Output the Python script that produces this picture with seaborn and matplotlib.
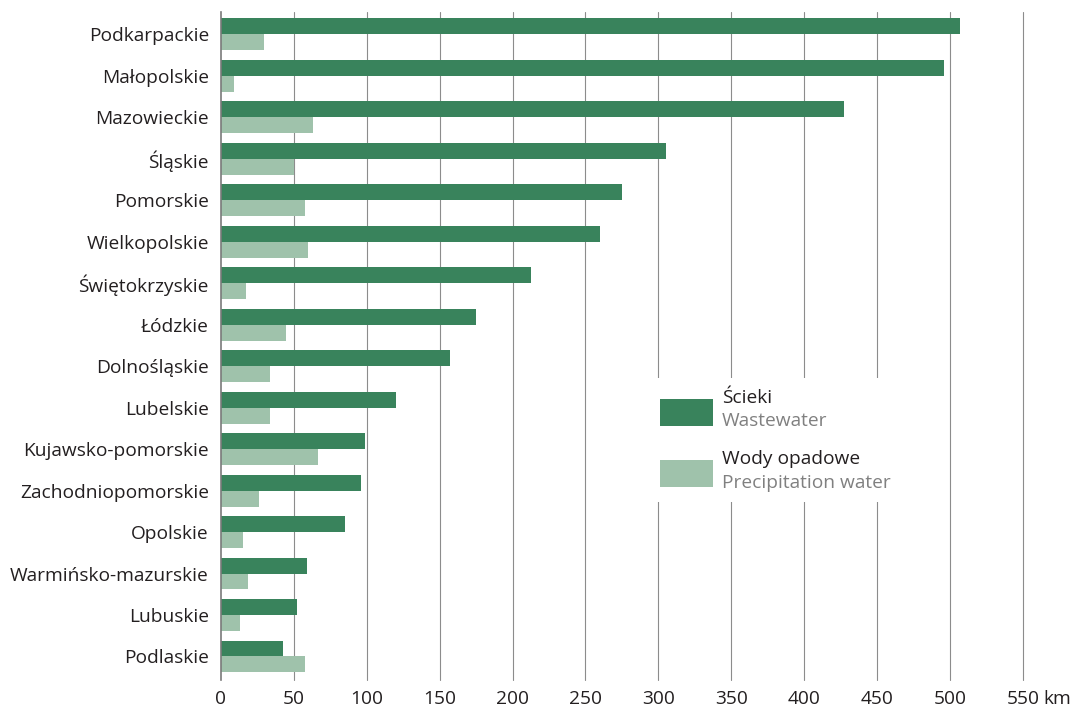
import matplotlib
matplotlib.use("Agg")
import matplotlib.pyplot as plt
from matplotlib.patches import Rectangle
import seaborn as sns
import pandas as pd

regions = ["Podkarpackie", "Małopolskie", "Mazowieckie", "Śląskie", "Pomorskie",
           "Wielkopolskie", "Świętokrzyskie", "Łódzkie", "Dolnośląskie", "Lubelskie",
           "Kujawsko-pomorskie", "Zachodniopomorskie", "Opolskie",
           "Warmińsko-mazurskie", "Lubuskie", "Podlaskie"]
wastewater = [507, 496, 427, 305, 275, 260, 213, 175, 157, 120, 99, 96, 85, 59, 52, 43]
precipitation = [30, 9, 63, 50, 58, 60, 17, 45, 34, 34, 67, 26, 15, 19, 13, 58]
series_pl = ["Ścieki", "Wody opadowe"]
series_en = ["Wastewater", "Precipitation water"]
x_ticks = [0, 50, 100, 150, 200, 250, 300, 350, 400, 450, 500, 550]
unit = "km"

colors = ["#39835c", "#9fc2ab"]
text_dark = "#231f20"
text_gray = "#808080"
FS = 13.8

sns.set_theme(style="white")
plt.rcParams["font.family"] = ["Open Sans", "DejaVu Sans"]

df = pd.DataFrame({
    "region": regions * 2,
    "value": wastewater + precipitation,
    "series": [series_pl[0]] * len(regions) + [series_pl[1]] * len(regions),
})

fig = plt.figure(figsize=(10.75, 7.11), dpi=100)
ax = fig.add_axes([220.7 / 1075, 1 - 679.7 / 711, 802.5 / 1075, 667.7 / 711])

sns.barplot(data=df, y="region", x="value", hue="series", orient="h",
            palette=colors, saturation=1, width=0.77, dodge=True,
            order=regions, hue_order=series_pl, legend=False, ax=ax, zorder=3,
            linewidth=0, edgecolor="none")

ax.set_xlim(0, 550)
ax.set_ylim(len(regions) - 1 + 0.56, -0.54)
ax.set_xlabel("")
ax.set_ylabel("")

for v in x_ticks[1:]:
    ax.axvline(v, color="#8c8c8c", lw=0.8, zorder=1, clip_on=False)

for s in ["top", "right", "bottom"]:
    ax.spines[s].set_visible(False)
ax.spines["left"].set_color("#7a7a7a")
ax.spines["left"].set_linewidth(1.2)
ax.spines["left"].set_zorder(4)

ax.set_xticks(x_ticks)
ax.set_xticklabels([str(t) for t in x_ticks])
ax.tick_params(axis="x", length=0, pad=7.5, labelsize=FS, labelcolor=text_dark)
ax.tick_params(axis="y", length=0, pad=8.5, labelsize=FS, labelcolor=text_dark)

ax.annotate(unit, xy=(550, 0), xycoords=("data", "axes fraction"),
            xytext=(20, -10), textcoords="offset pixels", ha="left", va="top",
            fontsize=FS, color=text_dark)

# legend box (white background over grid lines)
W, H = 1075, 711
def fx(x):
    return x / W
def fy(y):
    return 1 - y / H

fig.add_artist(Rectangle((fx(645), fy(502)), fx(905) - fx(645), fy(378) - fy(502),
                         facecolor="white", edgecolor="none", zorder=5))
patch_tops = [399, 460]
for i in range(2):
    fig.add_artist(Rectangle((fx(660), fy(patch_tops[i] + 26.7)), fx(713) - fx(660),
                             26.7 / H, facecolor=colors[i], edgecolor="none", zorder=6))
    fig.text(fx(722), fy(patch_tops[i] - 1), series_pl[i], ha="left", va="center",
             fontsize=FS, color=text_dark, zorder=6)
    fig.text(fx(722), fy(patch_tops[i] + 22.5), series_en[i], ha="left", va="center",
             fontsize=FS, color=text_gray, zorder=6)

fig.savefig("out.png", dpi=100)
